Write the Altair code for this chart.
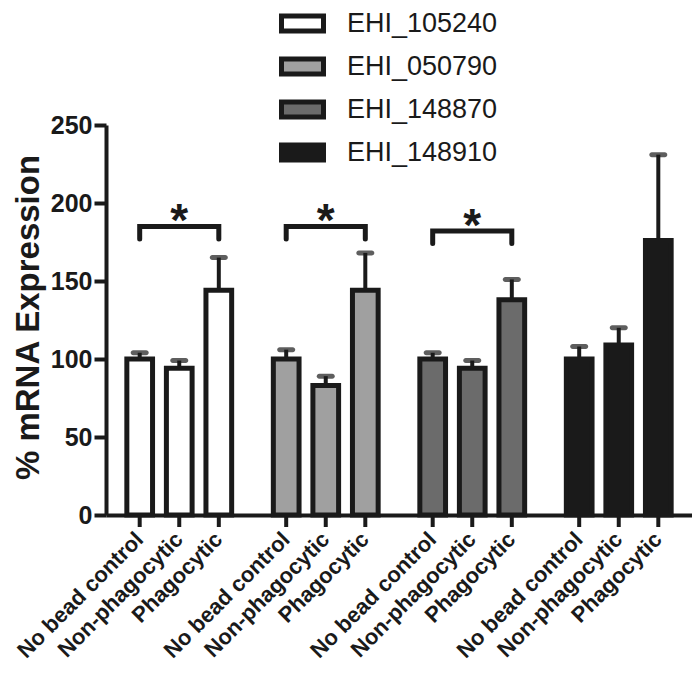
import altair as alt
import pandas as pd

genes = ["EHI_105240", "EHI_050790", "EHI_148870", "EHI_148910"]
conditions = ["No bead control", "Non-phagocytic", "Phagocytic"]
fills = ["#ffffff", "#a0a0a0", "#6b6b6b", "#1a1a1a"]

means = {
    "EHI_105240": [100, 94, 144],
    "EHI_050790": [100, 83, 144],
    "EHI_148870": [100, 94, 138],
    "EHI_148910": [100, 109, 176],
}
uppers = {
    "EHI_105240": [104, 99, 165],
    "EHI_050790": [106, 89, 168],
    "EHI_148870": [104, 99, 151],
    "EHI_148910": [108, 120, 231],
}

sig_genes = ["EHI_105240", "EHI_050790", "EHI_148870"]
bracket_top = [185, 185, 182]
bracket_leg = [177, 177, 174]

rows = []
for g in genes:
    for c, m, u in zip(conditions, means[g], uppers[g]):
        rows.append({"gene": g, "cond": c, "mean": m, "upper": u})
df = pd.DataFrame(rows)

brows = []
for g, t, l in zip(sig_genes, bracket_top, bracket_leg):
    brows += [
        {"gene": g, "cond": "No bead control", "val": l, "ord": 0},
        {"gene": g, "cond": "No bead control", "val": t, "ord": 1},
        {"gene": g, "cond": "Phagocytic", "val": t, "ord": 2},
        {"gene": g, "cond": "Phagocytic", "val": l, "ord": 3},
    ]
bdf = pd.DataFrame(brows)
adf = pd.DataFrame({"gene": sig_genes, "cond": ["Non-phagocytic"] * 3,
                    "val": bracket_top, "star": ["*"] * 3})

W, H = 586, 390
FONT = "Liberation Sans"
INK = "#1a1a1a"

xenc = alt.X("gene:N", scale=alt.Scale(domain=genes, paddingInner=0.19, paddingOuter=0.095),
             axis=alt.Axis(labels=False, ticks=False, title=None, domainWidth=4,
                           domainColor=INK, grid=False))
xoff = alt.XOffset("cond:N", scale=alt.Scale(domain=conditions, paddingInner=0.35,
                                             paddingOuter=0.175))
yscale = alt.Scale(domain=[0, 250], nice=False)
yaxis = alt.Axis(values=[0, 50, 100, 150, 200, 250], title="% mRNA Expression",
                 grid=False, domainWidth=4, domainColor=INK, tickWidth=4,
                 tickColor=INK, tickSize=12, labelFontSize=25,
                 labelFontWeight="bold", labelFont=FONT, labelColor=INK,
                 labelPadding=2, titleFont=FONT, titleFontSize=33,
                 titleFontWeight="bold", titleColor=INK, titleAngle=270,
                 titleAlign="center", titleBaseline="middle",
                 titleX=-78, titleY=H / 2 - 3)
yk = dict(scale=yscale, axis=yaxis)

base = alt.Chart(df)

stems = base.mark_rule(color=INK, strokeWidth=4).encode(
    x=xenc, xOffset=xoff, y=alt.Y("mean:Q", **yk), y2="upper:Q",
)
caps = base.mark_tick(color=INK, thickness=5, size=18, cornerRadius=2.5).encode(
    x=xenc, xOffset=xoff, y=alt.Y("upper:Q", **yk),
)
bars = base.mark_bar(stroke=INK, strokeWidth=5).encode(
    x=xenc, xOffset=xoff, y=alt.Y("mean:Q", **yk),
    fill=alt.Fill("gene:N", scale=alt.Scale(domain=genes, range=fills),
                  legend=alt.Legend(title=None, orient="none", legendX=173, legendY=-125,
                                    symbolType="M-1,-0.357H1V0.357H-1Z", symbolSize=1764,
                                    symbolStrokeColor=INK, symbolStrokeWidth=5,
                                    labelFontSize=27, labelFont=FONT, labelColor=INK,
                                    labelOffset=21, rowPadding=2, direction="vertical")),
)
ticks = base.mark_rule(color=INK, strokeWidth=4).encode(
    x=xenc, xOffset=xoff, y=alt.value(H), y2=alt.value(H + 12),
)
labels = base.mark_text(angle=315, align="right", baseline="middle", fontSize=22,
                        fontWeight="bold", font=FONT, color=INK).encode(
    x=xenc, xOffset=xoff, y=alt.value(H + 21), text="cond:N",
)
brackets = alt.Chart(bdf).mark_line(color=INK, strokeWidth=5, strokeCap="round",
                                    strokeJoin="miter").encode(
    x=xenc, xOffset=xoff, y=alt.Y("val:Q", **yk), detail="gene:N",
    order="ord:Q",
)
stars = alt.Chart(adf).mark_text(fontSize=46, fontWeight="bold", font=FONT, color=INK,
                                 baseline="alphabetic", dy=10).encode(
    x=xenc, xOffset=xoff, y=alt.Y("val:Q", **yk), text="star:N",
)

chart = alt.layer(stems, caps, bars, ticks, labels, brackets, stars).properties(
    width=W, height=H,
    background="white",
    autosize=alt.AutoSizeParams(type="none"),
    padding={"left": 98, "top": 117, "right": 0, "bottom": 149},
).configure_view(strokeWidth=0, stroke="transparent").configure_axis(grid=False)

chart.save("out.html", embed_options={"renderer": "svg", "actions": False})
